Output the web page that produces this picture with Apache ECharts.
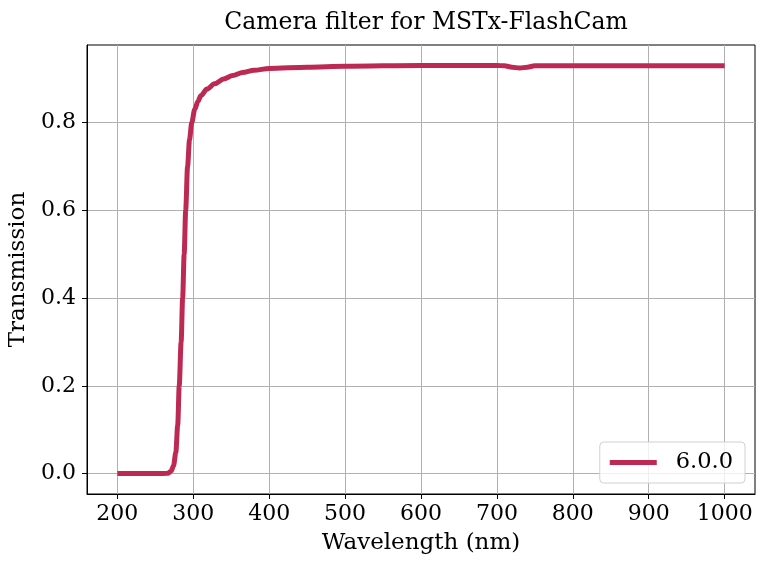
<!DOCTYPE html>
<html lang="en">
<head>
    <meta charset="UTF-8">
    <title>Camera filter for MSTx-FlashCam</title>
    <script src="https://cdn.jsdelivr.net/npm/echarts@6/dist/echarts.min.js"></script>
    <style>
        html, body { margin: 0; padding: 0; background: #fff; }
    </style>
</head>
<body>
    <div id="main" style="width: 766px; height: 568px"></div>
    <script>
        var mychart = echarts.init(document.getElementById("main"))

        // wavelength (nm) and transmission
        var wavelength = [200, 230, 260, 267, 271, 274, 277, 279.5, 281.5, 284, 286, 288, 290, 292.5,
            295, 298, 302, 306, 310, 318, 328, 340, 352, 365, 380, 400, 450, 500, 600, 700,
            710, 720, 730, 740, 750, 800, 900, 1000];
        var transmission = [0, 0, 0, 0.001, 0.006, 0.018, 0.048, 0.11, 0.2, 0.3, 0.4, 0.5, 0.6, 0.7,
            0.76, 0.8, 0.83, 0.848, 0.861, 0.876, 0.888, 0.899, 0.907, 0.914, 0.919, 0.923, 0.926,
            0.928, 0.93, 0.93, 0.929, 0.926, 0.924, 0.926, 0.929, 0.929, 0.929, 0.929];
        var seriesName = '6.0.0';

        // tick positions
        var xTicks = [200, 300, 400, 500, 600, 700, 800, 900, 1000];
        var yTicks = [0, 0.2, 0.4, 0.6, 0.8];

        var data = wavelength.map(function (w, i) { return [w, transmission[i]]; });

        var font = 'DejaVu Serif';
        var gridColor = '#b0b0b0';

        option = {
            animation: false,
            title: {
                text: 'Camera filter for MSTx-FlashCam',
                left: 421,
                top: 6,
                textAlign: 'center',
                textStyle: { fontFamily: font, fontSize: 23.5, fontWeight: 'normal', color: '#000' }
            },
            grid: {
                left: 87, right: 11, top: 45, bottom: 74,
                outerBoundsMode: 'none',
                containLabel: false,
                show: true, borderColor: '#000', borderWidth: 1
            },
            legend: {
                right: 21, bottom: 85,
                icon: 'rect',
                itemWidth: 47, itemHeight: 5, itemGap: 0,
                padding: [9, 12, 9, 10],
                backgroundColor: 'rgba(255,255,255,0.8)',
                borderColor: '#d0d0d0', borderWidth: 1, borderRadius: 4,
                textStyle: { fontFamily: font, fontSize: 22.5, color: '#000', padding: [0, 0, 0, 14] },
                data: [seriesName]
            },
            xAxis: {
                type: 'value',
                min: 160, max: 1040,
                name: 'Wavelength (nm)',
                nameLocation: 'middle', nameGap: 38,
                nameTextStyle: { fontFamily: font, fontSize: 23, color: '#000' },
                axisLine: { show: true, onZero: false, lineStyle: { color: '#000' } },
                axisTick: { show: true, inside: false, length: 5, customValues: xTicks, lineStyle: { color: '#000' } },
                axisLabel: {
                    fontFamily: font, fontSize: 22, color: '#000', margin: 9,
                    customValues: xTicks,
                    formatter: function (v) { return String(v); }
                },
                splitLine: { show: true, lineStyle: { color: gridColor, width: 1 } }
            },
            yAxis: {
                type: 'value',
                min: -0.0465, max: 0.9765,
                name: 'Transmission',
                nameLocation: 'middle', nameGap: 57,
                nameTextStyle: { fontFamily: font, fontSize: 23, color: '#000' },
                axisLine: { show: true, onZero: false, lineStyle: { color: '#000' } },
                axisTick: { show: true, inside: false, length: 5, customValues: yTicks, lineStyle: { color: '#000' } },
                axisLabel: {
                    fontFamily: font, fontSize: 22, color: '#000', margin: 11,
                    customValues: yTicks,
                    formatter: function (v) { return v.toFixed(1); }
                },
                splitLine: { show: true, lineStyle: { color: gridColor, width: 1 } }
            },
            series: [{
                name: seriesName,
                type: 'line',
                data: data,
                showSymbol: false,
                smooth: 0.3,
                smoothMonotone: 'x',
                color: '#bc2a54',
                lineStyle: { width: 5, color: '#bc2a54' }
            }]
        }

        mychart.setOption(option)
    </script>
</body>
</html>
